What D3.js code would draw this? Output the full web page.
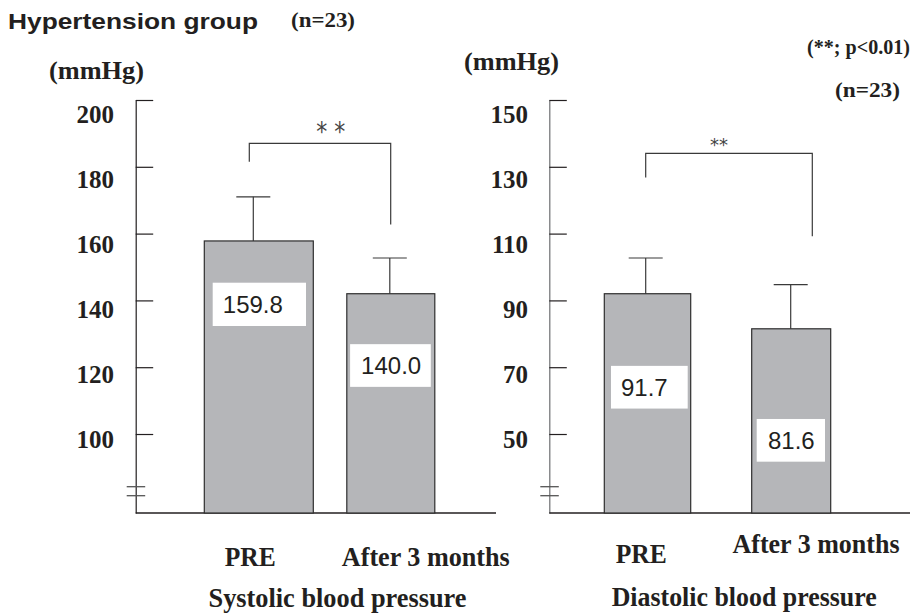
<!DOCTYPE html>
<html>
<head>
<meta charset="utf-8">
<script src="https://cdn.jsdelivr.net/npm/d3@7"></script>
<style>
  body { margin: 0; background: #fff; }
  text { fill: #231f20; }
  .serif { font-family: "Liberation Serif", "Times New Roman", serif; font-weight: bold; }
  .sans { font-family: "Liberation Sans", Arial, sans-serif; }
</style>
</head>
<body>
<svg></svg>
<script>
// values
var groups = ['PRE', 'After 3 months'];
var sysMean = [157.8, 142.0];
var sysSD = [13.2, 10.7];
var sysLabels = ['159.8', '140.0'];
var diaMean = [92.0, 81.5];
var diaSD = [10.7, 13.2];
var diaLabels = ['91.7', '81.6'];
var sysTicks = [100, 120, 140, 160, 180, 200];
var diaTicks = [50, 70, 90, 110, 130, 150];

var width = 915, height = 615;
var svg = d3.select('svg').attr('width', width).attr('height', height);
var ink = '#231f20';

var panels = [
  {
    mean: sysMean, sd: sysSD, labels: sysLabels, ticks: sysTicks,
    axisX: 135.7, baseEnd: 496, top: 100, base: 513, lo: 76.35, hi: 200,
    labelRange: [439.5, 114], labelEnd: 114,
    centers: [258.8, 390.8], widths: [109, 88], errDx: [-5.5, -1],
    boxes: [{ dx: 8.4, top: 145.3, w: 93.3, h: 43.3, tdx: -6.5 },
            { dx: 3.3, top: 126.9, w: 80.7, h: 42.7, tdx: 0.7 }],
    bracket: { y: 187, drops: [181.5, 162.7], x: [249.3, 390.7] },
    star: { text: '* *', x: 330.8, y: 141, size: 26, len: 29 },
    unit: { x: 49, y: 79 },
    xlab: [{ x: 250.3, y: 566, len: 51 }, { x: 425.8, y: 566, len: 168 }],
    title: { text: 'Systolic blood pressure', x: 337.5, y: 607, len: 258 },
    axisColor: ink
  },
  {
    mean: diaMean, sd: diaSD, labels: diaLabels, ticks: diaTicks,
    axisX: 549.3, baseEnd: 910, top: 100, base: 513, lo: 26.35, hi: 150,
    labelRange: [439.5, 114], labelEnd: 528,
    centers: [647.5, 791.2], widths: [86.4, 79], errDx: [-1.8, -0.5],
    boxes: [{ dx: 6.7, top: 70.4, w: 76.7, h: 42.7, tdx: -5 },
            { dx: 5, top: 54.5, w: 68.3, h: 42.7, tdx: 0.5 }],
    bracket: { y: 134, drops: [126.8, 109.2], x: [645.7, 812.3] },
    star: { text: '**', x: 719, y: 151, size: 17, len: 18 },
    unit: { x: 464, y: 70 },
    xlab: [{ x: 641.3, y: 563, len: 51 }, { x: 816, y: 553, len: 167 }],
    title: { text: 'Diastolic blood pressure', x: 744.2, y: 606, len: 265 },
    axisColor: '#6d6e71'
  }
];

panels.forEach(function(p) {
  var y = d3.scaleLinear().domain([p.lo, p.hi]).range([p.base, p.top]);
  var labelY = d3.scaleLinear()
                 .domain([p.ticks[0], p.ticks[p.ticks.length - 1]])
                 .range(p.labelRange);
  var x = d3.scalePoint().domain(groups).range(p.centers);
  var g = svg.append('g');

  // axis with ticks pointing right
  var ax = g.append('g')
      .attr('transform', 'translate(' + p.axisX + ',0)')
      .call(d3.axisRight(y).tickValues(p.ticks).tickSize(17.5).tickSizeOuter(0).tickFormat(''));
  ax.select('.domain').attr('stroke', p.axisColor).attr('stroke-width', 1.2);
  ax.selectAll('.tick line').attr('stroke', ink).attr('stroke-width', 1.2);

  g.selectAll('.ticklabel')
    .data(p.ticks)
    .enter().append('text')
      .attr('class', 'serif')
      .attr('x', p.labelEnd)
      .attr('y', d => labelY(d))
      .attr('dy', '0.35em')
      .attr('text-anchor', 'end')
      .style('font-size', '25px')
      .text(d => d);

  // baseline and axis break
  g.append('line')
    .attr('x1', p.axisX).attr('x2', p.baseEnd)
    .attr('y1', p.base).attr('y2', p.base)
    .attr('stroke', ink).attr('stroke-width', 1.3);
  [26.3, 17.3].forEach(function(off) {
    g.append('line')
      .attr('x1', p.axisX - 9).attr('x2', p.axisX + 9.5)
      .attr('y1', p.base - off).attr('y2', p.base - off)
      .attr('stroke', '#555').attr('stroke-width', 1.3);
  });

  var bars = g.selectAll('.bar')
    .data(groups)
    .enter().append('g')
      .classed('bar', true);

  // error bars (upper only)
  bars.append('line')
    .attr('x1', (d, i) => x(d) + p.errDx[i]).attr('x2', (d, i) => x(d) + p.errDx[i])
    .attr('y1', (d, i) => y(p.mean[i])).attr('y2', (d, i) => y(p.mean[i] + p.sd[i]))
    .attr('stroke', '#3a3a3a').attr('stroke-width', 1.2);
  bars.append('line')
    .attr('x1', (d, i) => x(d) + p.errDx[i] - 17).attr('x2', (d, i) => x(d) + p.errDx[i] + 17)
    .attr('y1', (d, i) => y(p.mean[i] + p.sd[i])).attr('y2', (d, i) => y(p.mean[i] + p.sd[i]))
    .attr('stroke', '#3a3a3a').attr('stroke-width', 1.2);

  bars.append('rect')
    .attr('x', (d, i) => x(d) - p.widths[i] / 2)
    .attr('width', (d, i) => p.widths[i])
    .attr('y', (d, i) => y(p.mean[i]))
    .attr('height', (d, i) => p.base - y(p.mean[i]))
    .attr('fill', '#b5b6b9')
    .attr('stroke', '#2e2e2e')
    .attr('stroke-width', 1.2);

  // value boxes
  bars.append('rect')
    .attr('x', (d, i) => x(d) - p.widths[i] / 2 + p.boxes[i].dx)
    .attr('y', (d, i) => y(p.boxes[i].top))
    .attr('width', (d, i) => p.boxes[i].w)
    .attr('height', (d, i) => p.boxes[i].h)
    .attr('fill', '#fff');
  bars.append('text')
    .attr('class', 'sans')
    .attr('x', (d, i) => x(d) - p.widths[i] / 2 + p.boxes[i].dx + p.boxes[i].w / 2 + p.boxes[i].tdx)
    .attr('y', (d, i) => y(p.boxes[i].top) + p.boxes[i].h / 2)
    .attr('dy', '0.36em')
    .attr('text-anchor', 'middle')
    .style('font-size', '24px')
    .text((d, i) => p.labels[i]);

  // significance bracket
  var b = p.bracket;
  g.append('path')
    .attr('d', 'M' + b.x[0] + ',' + y(b.drops[0]) + 'V' + y(b.y) + 'H' + b.x[1] + 'V' + y(b.drops[1]))
    .attr('fill', 'none').attr('stroke', '#3a3a3a').attr('stroke-width', 1.2);
  g.append('text')
    .attr('x', p.star.x).attr('y', p.star.y)
    .attr('text-anchor', 'middle')
    .style('font-family', '"DejaVu Sans", sans-serif')
    .style('font-size', p.star.size + 'px')
    .style('fill', '#444')
    .attr('textLength', p.star.len).attr('lengthAdjust', 'spacingAndGlyphs')
    .text(p.star.text);

  g.append('text')
    .attr('class', 'serif')
    .attr('x', p.unit.x).attr('y', p.unit.y)
    .style('font-size', '26px')
    .attr('textLength', 95).attr('lengthAdjust', 'spacingAndGlyphs')
    .text('(mmHg)');

  g.selectAll('.xlab')
    .data(groups)
    .enter().append('text')
      .attr('class', 'serif')
      .attr('x', (d, i) => p.xlab[i].x)
      .attr('y', (d, i) => p.xlab[i].y)
      .attr('text-anchor', 'middle')
      .style('font-size', '27px')
      .attr('textLength', (d, i) => p.xlab[i].len).attr('lengthAdjust', 'spacingAndGlyphs')
      .text(d => d);

  g.append('text')
    .attr('class', 'serif')
    .attr('x', p.title.x).attr('y', p.title.y)
    .attr('text-anchor', 'middle')
    .style('font-size', '27px')
    .attr('textLength', p.title.len).attr('lengthAdjust', 'spacingAndGlyphs')
    .text(p.title.text);
});

svg.append('text')
   .attr('class', 'sans')
   .attr('x', 8).attr('y', 29)
   .style('font-size', '22px').style('font-weight', 'bold')
   .attr('textLength', 250).attr('lengthAdjust', 'spacingAndGlyphs')
   .text('Hypertension group');

svg.append('text')
   .attr('class', 'serif')
   .attr('x', 291).attr('y', 27)
   .style('font-size', '21px')
   .attr('textLength', 64).attr('lengthAdjust', 'spacingAndGlyphs')
   .text('(n=23)');

svg.append('text')
   .attr('class', 'serif')
   .attr('x', 807).attr('y', 54)
   .style('font-size', '20px')
   .attr('textLength', 103).attr('lengthAdjust', 'spacingAndGlyphs')
   .text('(**; p<0.01)');

svg.append('text')
   .attr('class', 'serif')
   .attr('x', 835).attr('y', 97)
   .style('font-size', '20px')
   .attr('textLength', 65).attr('lengthAdjust', 'spacingAndGlyphs')
   .text('(n=23)');
</script>
</body>
</html>
